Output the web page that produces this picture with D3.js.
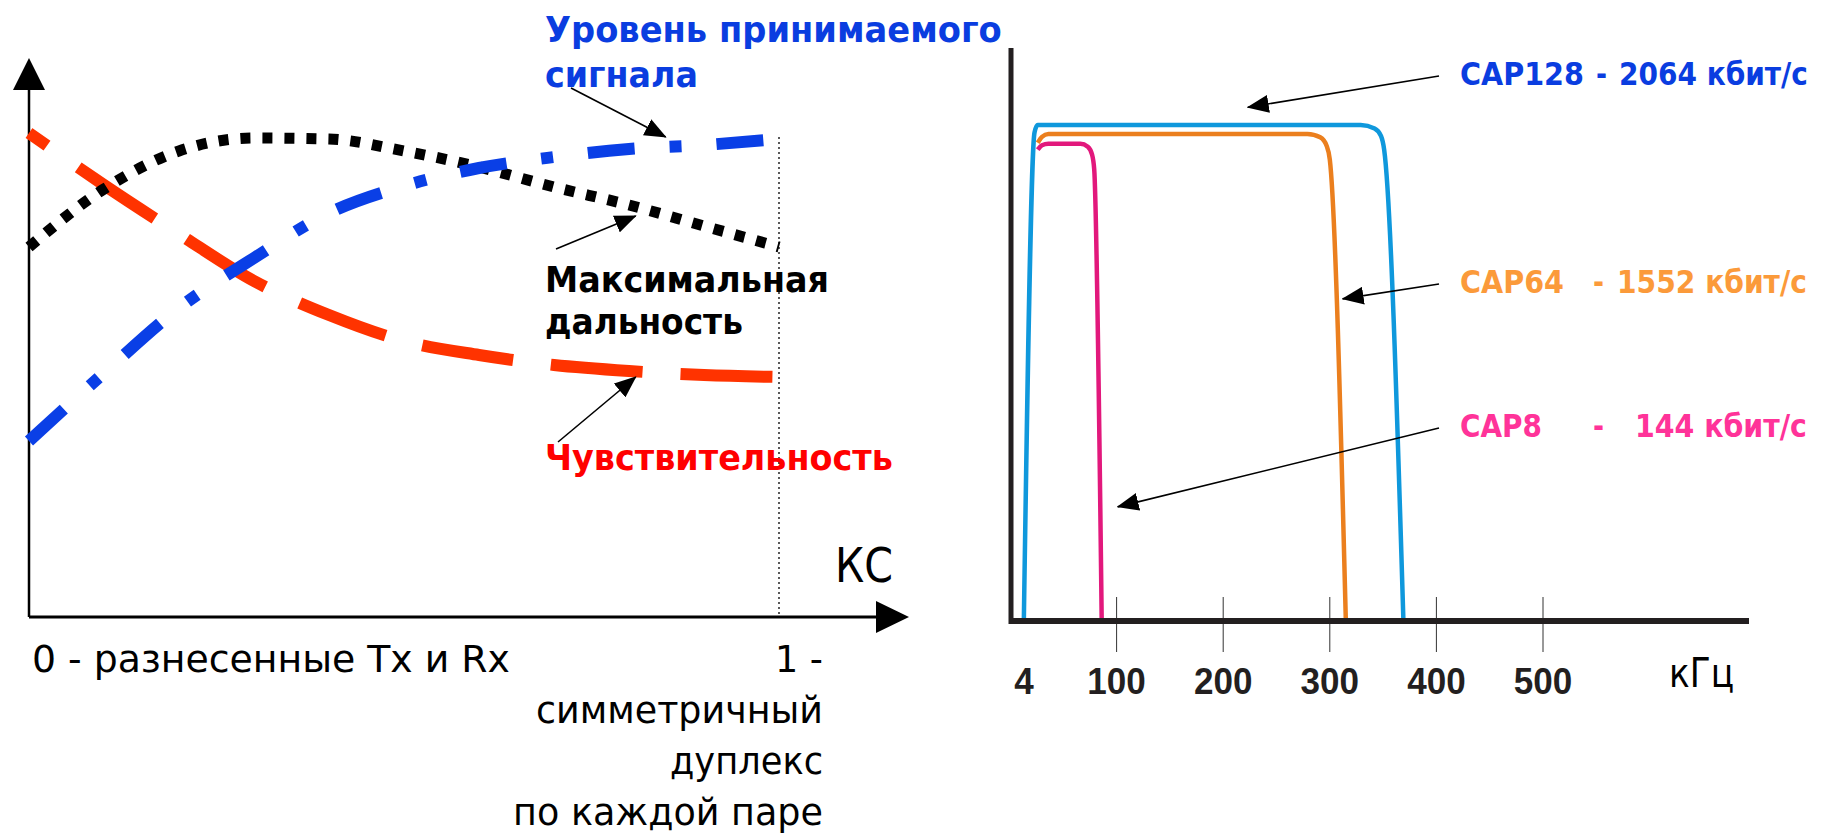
<!DOCTYPE html>
<html>
<head>
<meta charset="utf-8">
<script src="https://cdn.jsdelivr.net/npm/d3@7"></script>
<style>
    body { margin: 0; background: #fff; }
    svg { display: block; }
</style>
</head>
<body>
<div id="chart"></div>
<script>
// ---- left chart: КС (0 .. 1), relative level 0..100
const kcValues      = [0, 0.1, 0.2, 0.3, 0.4, 0.5, 0.6, 0.7, 0.8, 0.9, 1.0];
const sensitivity   = [96.8, 86.4, 76.6, 67.2, 60.4, 55.2, 52.4, 50.4, 49.2, 48.4, 48.0];
const signalLevel   = [35.2, 48.8, 61.8, 71.8, 80.8, 86.2, 89.8, 92.0, 93.6, 94.4, 95.6];
const maxRange      = [74.0, 85.6, 93.2, 95.8, 95.6, 93.2, 90.0, 86.0, 82.4, 78.2, 74.0];

const leftXLabels = ["0 - разнесенные Tx и Rx", "1 -", "симметричный", "дуплекс", "по каждой паре"];

// ---- right chart: spectrum, kHz vs level
const khzTicks = [4, 100, 200, 300, 400, 500];
const cap128 = [[13, 0], [23, 98.5], [26, 100], [329, 100], [342, 99.3], [348, 97.8], [351, 95], [369, 0]];
const cap64  = [[26, 96.4], [30, 97.6], [36, 98.2], [279, 98.2], [291, 97.5], [297, 95.8], [300, 93], [315, 0]];
const cap8   = [[26, 95.0], [30, 95.9], [36, 96.2], [66, 96.2], [73, 95.6], [77, 94], [79, 91], [86, 0]];

const capNames = ["CAP128", "CAP64", "CAP8"];
const capRates = ["2064 кбит/с", "1552 кбит/с", "144 кбит/с"];

const svg = d3.select("#chart")
    .append("svg")
    .attr("width", 1823)
    .attr("height", 834);

const defs = svg.append("defs");
defs.append("marker")
    .attr("id", "head")
    .attr("markerUnits", "userSpaceOnUse")
    .attr("markerWidth", 22)
    .attr("markerHeight", 18)
    .attr("refX", 21)
    .attr("refY", 9)
    .attr("orient", "auto")
    .append("path")
    .attr("d", "M0,0 L22,9 L0,18 Z")
    .attr("fill", "#000");

// text squeezed horizontally to the width it has in the picture
function label(g, o) {
    const t = g.append("text")
        .attr("font-family", o.family || "'DejaVu Sans', sans-serif")
        .attr("font-size", o.size)
        .attr("font-weight", o.weight || "normal")
        .attr("fill", o.color || "#000")
        .attr("text-anchor", o.anchor || "start")
        .text(o.text);
    let sx = 1;
    if (o.width) {
        sx = o.width / t.node().getComputedTextLength();
    }
    t.attr("transform", `translate(${o.x},${o.y}) scale(${sx},1)`);
    return t;
}

function annotation(g, x1, y1, x2, y2) {
    g.append("line")
        .attr("x1", x1).attr("y1", y1)
        .attr("x2", x2).attr("y2", y2)
        .attr("stroke", "#000")
        .attr("stroke-width", 1.6)
        .attr("marker-end", "url(#head)");
}

// ================= LEFT =================
const left = svg.append("g").classed("left", true);

const xKc = d3.scaleLinear().domain([0, 1]).range([29, 779]);
const yLvl = d3.scaleLinear().domain([0, 100]).range([617, 117]);

// axes with arrows
left.append("line")
    .attr("x1", xKc(0)).attr("y1", 617)
    .attr("x2", xKc(0)).attr("y2", 80)
    .attr("stroke", "#000").attr("stroke-width", 2.5);
left.append("path")
    .attr("d", `M${xKc(0) - 16},90 L${xKc(0)},58 L${xKc(0) + 16},90 Z`)
    .attr("fill", "#000");
left.append("line")
    .attr("x1", xKc(0)).attr("y1", 617)
    .attr("x2", 885).attr("y2", 617)
    .attr("stroke", "#000").attr("stroke-width", 3);
left.append("path")
    .attr("d", `M876,601 L909,617 L876,633 Z`)
    .attr("fill", "#000");

// dotted marker at КС = 1
left.append("line")
    .attr("x1", xKc(1)).attr("y1", yLvl(96))
    .attr("x2", xKc(1)).attr("y2", 617)
    .attr("stroke", "#000")
    .attr("stroke-width", 1.3)
    .attr("stroke-dasharray", "2,3");

const line = d3.line()
    .x((d, i) => xKc(kcValues[i]))
    .y(d => yLvl(d))
    .curve(d3.curveMonotoneX);

left.append("path")
    .datum(sensitivity)
    .attr("d", line)
    .attr("fill", "none")
    .attr("stroke", "#ff3300")
    .attr("stroke-width", 12)
    .attr("stroke-dasharray", "92,38")
    .attr("stroke-dashoffset", 70);

left.append("path")
    .datum(maxRange)
    .attr("d", line)
    .attr("fill", "none")
    .attr("stroke", "#000")
    .attr("stroke-width", 11)
    .attr("stroke-dasharray", "10,12");

left.append("path")
    .datum(signalLevel)
    .attr("d", line)
    .attr("fill", "none")
    .attr("stroke", "#0a3fe6")
    .attr("stroke-width", 12)
    .attr("stroke-dasharray", "47,35,12,35");

// series labels
label(left, {text: "Уровень принимаемого", x: 545, y: 42, size: 36, weight: "bold", color: "#0a3de0", width: 457});
label(left, {text: "сигнала", x: 545, y: 87, size: 36, weight: "bold", color: "#0a3de0", width: 153});
label(left, {text: "Максимальная", x: 545, y: 292, size: 36, weight: "bold", width: 284});
label(left, {text: "дальность", x: 545, y: 334, size: 36, weight: "bold", width: 198});
label(left, {text: "Чувствительность", x: 545, y: 470, size: 36, weight: "bold", color: "#ff0000", width: 348});

annotation(left, 571, 88, xKc(0.849), yLvl(96));
annotation(left, 556, 249, xKc(0.809), yLvl(80.2));
annotation(left, 558, 442, xKc(0.809), yLvl(48));

// axis texts
label(left, {text: "КС", x: 835, y: 582, size: 48, width: 58});
label(left, {text: leftXLabels[0], x: 32, y: 672, size: 37, width: 478});
label(left, {text: leftXLabels[1], x: 823, y: 672, size: 37, anchor: "end", width: 48});
label(left, {text: leftXLabels[2], x: 823, y: 723, size: 37, anchor: "end", width: 287});
label(left, {text: leftXLabels[3], x: 823, y: 774, size: 37, anchor: "end", width: 153});
label(left, {text: leftXLabels[4], x: 823, y: 825, size: 37, anchor: "end", width: 310});

// ================= RIGHT =================
const right = svg.append("g").classed("right", true);

const xKhz = d3.scaleLinear().domain([0, 500]).range([1010, 1543]);
const yDb = d3.scaleLinear().domain([0, 100]).range([619, 125]);

right.selectAll("line.tick")
    .data(khzTicks.slice(1))
    .join("line")
    .classed("tick", true)
    .attr("x1", d => xKhz(d)).attr("x2", d => xKhz(d))
    .attr("y1", 597).attr("y2", 652)
    .attr("stroke", "#333")
    .attr("stroke-width", 1);

khzTicks.forEach((d, i) => {
    label(right, {
        text: String(d), x: xKhz(d), y: 694, size: 37, weight: "bold",
        family: "'Liberation Sans', Arial, sans-serif", color: "#231f20",
        anchor: i === 0 ? "start" : "middle", width: String(d).length * 19.5
    });
});

label(right, {text: "кГц", x: 1669, y: 687, size: 40, width: 65});

const spec = d3.line()
    .x(d => xKhz(d[0]))
    .y(d => yDb(d[1]))
    .curve(d3.curveMonotoneX);

const capColors = ["#0f98dc", "#eb7f1e", "#e2187c"];
[cap128, cap64, cap8].forEach((s, i) => {
    right.append("path")
        .datum(s)
        .attr("d", spec)
        .attr("fill", "none")
        .attr("stroke", capColors[i])
        .attr("stroke-width", 4.5)
        .attr("stroke-linejoin", "round");
});

// axes drawn over the curve feet
right.append("line")
    .attr("x1", 1011).attr("y1", 48)
    .attr("x2", 1011).attr("y2", 624)
    .attr("stroke", "#231f20").attr("stroke-width", 5);
right.append("line")
    .attr("x1", 1009).attr("y1", 621)
    .attr("x2", 1749).attr("y2", 621)
    .attr("stroke", "#231f20").attr("stroke-width", 6);

// legends
const capTextColors = ["#0a3de0", "#fb9a3a", "#ff3399"];
const capRows = [85, 293, 437];
const capDashX = [1596, 1593, 1593];
const capRateX = [1619, 1617, 1635];
const capNameW = [124, 104, 82];
const capRateW = [189, 190, 172];
capNames.forEach((n, i) => {
    label(right, {text: n, x: 1460, y: capRows[i], size: 32, weight: "bold", color: capTextColors[i], width: capNameW[i]});
    label(right, {text: "-", x: capDashX[i], y: capRows[i], size: 32, weight: "bold", color: capTextColors[i], width: 11});
    label(right, {text: capRates[i], x: capRateX[i], y: capRows[i], size: 32, weight: "bold", color: capTextColors[i], width: capRateW[i]});
});

annotation(right, 1439, 76, xKhz(223), yDb(103.6));
annotation(right, 1439, 284, xKhz(312), yDb(64.8));
annotation(right, 1439, 428, xKhz(101), yDb(22.7));
</script>
</body>
</html>
